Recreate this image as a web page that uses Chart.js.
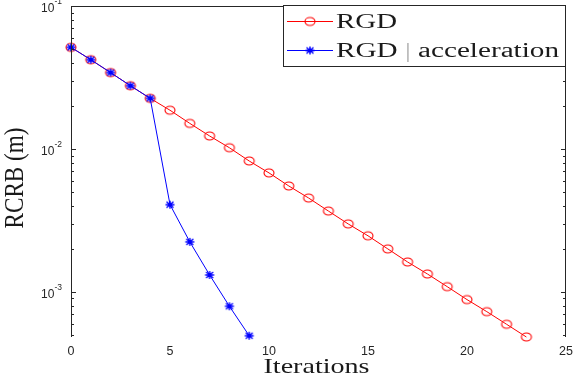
<!DOCTYPE html>
<html><head><meta charset="utf-8">
<script src="https://cdn.jsdelivr.net/npm/chart.js@4"></script>
<style>html,body{margin:0;padding:0;background:#fff}canvas{display:block}</style>
</head><body>
<canvas id="c" width="574" height="380"></canvas>
<script>
// ---- data ----
const iterations = [0,1,2,3,4,5,6,7,8,9,10,11,12,13,14,15,16,17,18,19,20,21,22,23];
const rgd = [0.0514,0.0421,0.0342,0.0277,0.0226,0.01866,0.0151,0.01233,0.0102,0.00824,0.00680,0.00551,0.00454,0.00368,0.00299,0.00247,0.00200,0.00162,0.001336,0.001089,0.000884,0.000728,0.000594,0.000484];
const accIterations = [0,1,2,3,4,5,6,7,8,9];
const rgdAcc = [0.0514,0.0421,0.0342,0.0277,0.0226,0.00408,0.00224,0.001315,0.000794,0.000494];
const seriesNames = ['RGD','RGD | acceleration'];
const xTickValues = [0,5,10,15,20,25];
const xTickLabels = ['0','5','10','15','20','25'];
const yDecadeValues = [0.1,0.01,0.001];
const yTickBase = ['10','10','10'];
const yTickExp = ['-1','-2','-3'];
const yMinorMultipliers = [2,3,4,5,6,7,8,9];
const xTitle = 'Iterations';
const yTitle = 'RCRB (m)';

// ---- marker images ----
function makeCircle(){
  const c=document.createElement('canvas');c.width=14;c.height=12;
  const g=c.getContext('2d');g.strokeStyle='#ff0000';g.lineWidth=1.1;
  g.beginPath();g.ellipse(7,6,5,4,0,0,Math.PI*2);g.stroke();return c;
}
function makeStar(){
  const c=document.createElement('canvas');c.width=14;c.height=12;
  const g=c.getContext('2d');g.strokeStyle='#0000ff';g.lineWidth=1.4;
  g.beginPath();
  g.moveTo(2.5,6);g.lineTo(11.5,6);
  g.moveTo(7,2);g.lineTo(7,10);
  g.moveTo(3.5,3);g.lineTo(10.5,9);
  g.moveTo(3.5,9);g.lineTo(10.5,3);
  g.stroke();return c;
}
const circleImg=makeCircle(), starImg=makeStar();

function fillStretched(ctx,text,x,y,font,targetW,align){
  ctx.save();ctx.font=font;
  const w=ctx.measureText(text).width;const s=targetW/w;
  let x0=x; if(align==='center') x0=x-targetW/2; else if(align==='right') x0=x-targetW;
  ctx.translate(x0,y);ctx.scale(s,1);ctx.textAlign='left';
  // draw with any '|' in light grey
  const parts=text.split('|');let cx=0;const col=ctx.fillStyle;
  parts.forEach((p,i)=>{
    ctx.fillStyle=col;ctx.fillText(p,cx,0);cx+=ctx.measureText(p).width;
    if(i<parts.length-1){ctx.fillStyle='#b0b0b0';ctx.fillText('|',cx,0);cx+=ctx.measureText('|').width;}
  });
  ctx.restore();
}

const decor={
  id:'decor',
  afterDraw(chart){
    const ctx=chart.ctx, ca=chart.chartArea, xs=chart.scales.x, ys=chart.scales.y;
    ctx.save();
    // frame (no bottom line)
    ctx.strokeStyle='#262626';ctx.lineWidth=1;
    ctx.beginPath();
    ctx.moveTo(ca.left+0.5,ca.bottom);ctx.lineTo(ca.left+0.5,ca.top+0.5);
    ctx.lineTo(ca.right-0.5,ca.top+0.5);ctx.lineTo(ca.right-0.5,ca.bottom);
    ctx.stroke();
    // y ticks
    ctx.beginPath();
    for(const d of [0.0001,0.001,0.01]){
      for(const m of yMinorMultipliers){
        const v=d*m; if(v<ys.min||v>ys.max) continue;
        const p=Math.round(ys.getPixelForValue(v))+0.5;
        ctx.moveTo(ca.left,p);ctx.lineTo(ca.left+3,p);
        ctx.moveTo(ca.right,p);ctx.lineTo(ca.right-3,p);
      }
    }
    for(const v of yDecadeValues){
      const p=Math.round(ys.getPixelForValue(v))+0.5;
      ctx.moveTo(ca.left,p);ctx.lineTo(ca.left+5,p);
      ctx.moveTo(ca.right,p);ctx.lineTo(ca.right-5,p);
    }
    ctx.stroke();
    // y tick labels
    ctx.fillStyle='#262626';ctx.textBaseline='middle';
    yDecadeValues.forEach((v,i)=>{
      const p=ys.getPixelForValue(v);
      ctx.font='8.5px "Liberation Sans", Arial, sans-serif';
      ctx.textAlign='right';
      const ew=ctx.measureText(yTickExp[i]).width;
      ctx.fillText(yTickExp[i],62,p-4);
      ctx.font='12px "Liberation Sans", Arial, sans-serif';
      ctx.fillText(yTickBase[i],62-ew,p+2.5);
    });
    // x tick labels
    ctx.textAlign='center';ctx.font='12.5px "Liberation Sans", Arial, sans-serif';
    xTickValues.forEach((v,i)=>{
      const p=xs.getPixelForValue(v);
      ctx.fillText(xTickLabels[i],p,352);
    });
    // x title
    ctx.fillStyle='#1a1a1a';ctx.textBaseline='alphabetic';
    fillStretched(ctx,xTitle,(ca.left+ca.right)/2-2,373,'21px "Liberation Serif", serif',106,'center');
    // y title
    ctx.save();
    ctx.font='21px "Liberation Serif", serif';
    const tw=ctx.measureText(yTitle).width;
    ctx.translate(23,178);ctx.scale(1.3,1);ctx.rotate(-Math.PI/2);ctx.scale(101/tw,1);
    ctx.textAlign='center';ctx.fillText(yTitle,0,0);
    ctx.restore();
    // legend
    ctx.fillStyle='#fff';ctx.fillRect(284,6,281,60);
    ctx.strokeStyle='#262626';ctx.lineWidth=1;ctx.strokeRect(283.5,5.5,282,61);
    const rows=[{y:21.5,col:'#ff0000',img:circleImg,base:28,w:61},{y:50.5,col:'#0000ff',img:starImg,base:57,w:223}];
    rows.forEach((r,i)=>{
      ctx.strokeStyle=r.col;ctx.lineWidth=1;
      ctx.beginPath();ctx.moveTo(287,r.y);ctx.lineTo(333,r.y);ctx.stroke();
      ctx.drawImage(r.img,310-r.img.width/2,r.y-r.img.height/2);
      ctx.fillStyle='#1a1a1a';
      fillStretched(ctx,seriesNames[i],336,r.base,'20px "Liberation Serif", serif',r.w,'left');
    });
    ctx.restore();
  }
};

new Chart(document.getElementById('c'),{
  type:'line',
  data:{datasets:[
    {label:seriesNames[1],data:accIterations.map((x,i)=>({x,y:rgdAcc[i]})),borderColor:'#0000ff',borderWidth:1,pointStyle:starImg,pointRadius:5,tension:0,clip:false,order:0},
    {label:seriesNames[0],data:iterations.map((x,i)=>({x,y:rgd[i]})),borderColor:'#ff0000',borderWidth:1,pointStyle:circleImg,pointRadius:5,tension:0,clip:false,order:1}
  ]},
  options:{
    responsive:false,animation:false,devicePixelRatio:1,
    layout:{padding:{left:71,top:6,right:8,bottom:43}},
    plugins:{legend:{display:false},tooltip:{enabled:false}},
    scales:{
      x:{type:'linear',min:0,max:25,display:false},
      y:{type:'logarithmic',min:0.000484,max:0.1,display:false}
    }
  },
  plugins:[decor]
});
</script>
</body></html>
